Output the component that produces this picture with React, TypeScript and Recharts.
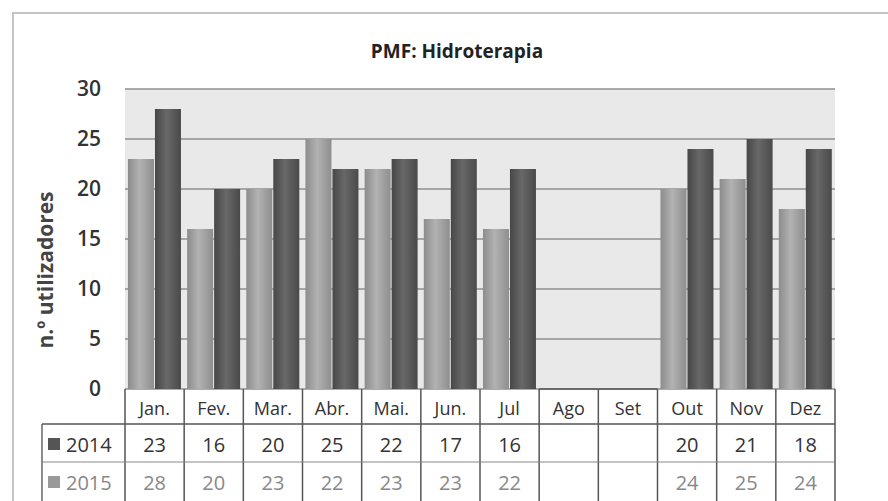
import { Bar, BarChart, CartesianGrid, XAxis, YAxis } from "recharts";

const months = ["Jan.", "Fev.", "Mar.", "Abr.", "Mai.", "Jun.", "Jul", "Ago", "Set", "Out", "Nov", "Dez"];
const users2014 = [23, 16, 20, 25, 22, 17, 16, null, null, 20, 21, 18];
const users2015 = [28, 20, 23, 22, 23, 23, 22, null, null, 24, 25, 24];
const yTicks = [0, 5, 10, 15, 20, 25, 30];

const data = months.map((month, i) => ({ month, y2014: users2014[i], y2015: users2015[i] }));

const W = 888;
const H = 501;
const MARGIN = { top: 89, right: 53, left: 0, bottom: 0 };
const YAXIS_W = 125;
const XAXIS_H = 112;
const CELL_W = (W - MARGIN.right - YAXIS_W) / months.length;

// table rows under the plot
const HEAD_TOP = 389;
const ROW1_TOP = 424;
const ROW2_TOP = 462;
const TABLE_BOTTOM = 501;
const LABEL_LEFT = 42;
const FONT = "'Open Sans', 'Noto Sans', sans-serif";

function TableTick(props: any) {
  const { x, payload, index } = props;
  const left = x - CELL_W / 2;
  const right = x + CELL_W / 2;
  const empty = users2014[index] == null;
  const v14 = users2014[index];
  const v15 = users2015[index];
  return (
    <g fontFamily={FONT} fontWeight={500}>
      {index === 0 && (
        <g>
          <line x1={left} y1={HEAD_TOP} x2={left} y2={TABLE_BOTTOM} stroke="#555" strokeWidth={1.5} />
          <line x1={LABEL_LEFT} y1={ROW1_TOP} x2={LABEL_LEFT} y2={TABLE_BOTTOM} stroke="#666" strokeWidth={1.5} />
          <line x1={LABEL_LEFT} y1={ROW1_TOP} x2={left} y2={ROW1_TOP} stroke="#555" strokeWidth={1.5} />
          <line x1={LABEL_LEFT} y1={ROW2_TOP} x2={left} y2={ROW2_TOP} stroke="#888" strokeWidth={1.2} />
          <rect x={48} y={ROW1_TOP + 14} width={12} height={12} fill="#555" />
          <text x={66} y={ROW1_TOP + 28} fontSize={20} fill="#333">2014</text>
          <rect x={48} y={ROW2_TOP + 14} width={12} height={12} fill="#999" />
          <text x={66} y={ROW2_TOP + 28} fontSize={20} fill="#888">2015</text>
        </g>
      )}
      <line x1={right} y1={HEAD_TOP} x2={right} y2={TABLE_BOTTOM} stroke="#555" strokeWidth={1.5} />
      {empty && <line x1={left} y1={HEAD_TOP} x2={right} y2={HEAD_TOP} stroke="#555" strokeWidth={1.5} />}
      <line x1={left} y1={ROW1_TOP} x2={right} y2={ROW1_TOP} stroke="#555" strokeWidth={1.5} />
      <line x1={left} y1={ROW2_TOP} x2={right} y2={ROW2_TOP} stroke="#888" strokeWidth={1.2} />
      <text x={x} y={HEAD_TOP + 26} textAnchor="middle" fontSize={18} fill="#333">
        {payload.value}
      </text>
      {v14 != null && (
        <text x={x} y={ROW1_TOP + 28} textAnchor="middle" fontSize={20} fill="#333">
          {v14}
        </text>
      )}
      {v15 != null && (
        <text x={x} y={ROW2_TOP + 28} textAnchor="middle" fontSize={20} fill="#888">
          {v15}
        </text>
      )}
    </g>
  );
}

export default function App() {
  return (
    <div style={{ position: "absolute", left: 0, top: 0, width: W, height: H, background: "#fff", overflow: "hidden" }}>
      <div
        style={{
          position: "absolute",
          left: 12,
          top: 12,
          right: 0,
          bottom: 0,
          borderTop: "2px solid #c4c4c4",
          borderLeft: "2px solid #c4c4c4",
        }}
      />
      <div
        style={{
          position: "absolute",
          top: 38,
          left: 0,
          width: W,
          textAlign: "center",
          fontFamily: FONT,
          fontWeight: 700,
          fontSize: 19,
          color: "#222",
          paddingLeft: 26,
          boxSizing: "border-box",
        }}
      >
        PMF: Hidroterapia
      </div>
      <BarChart
        width={W}
        height={H}
        data={data}
        margin={MARGIN}
        barCategoryGap="5%"
        barGap={1}
        style={{ position: "absolute", left: 0, top: 0 }}
      >
        <defs>
          <linearGradient id="bar2014" x1="0" x2="1" y1="0" y2="0">
            <stop offset="0%" stopColor="#8c8c8c" />
            <stop offset="45%" stopColor="#b2b2b2" />
            <stop offset="100%" stopColor="#8e8e8e" />
          </linearGradient>
          <linearGradient id="bar2015" x1="0" x2="1" y1="0" y2="0">
            <stop offset="0%" stopColor="#474747" />
            <stop offset="45%" stopColor="#686868" />
            <stop offset="100%" stopColor="#4a4a4a" />
          </linearGradient>
        </defs>
        <CartesianGrid vertical={false} fill="#e9e9e9" stroke="#8f8f8f" strokeWidth={1.5} />
        <XAxis
          dataKey="month"
          interval={0}
          height={XAXIS_H}
          axisLine={false}
          tickLine={false}
          tick={<TableTick />}
        />
        <YAxis
          width={YAXIS_W}
          domain={[0, 30]}
          ticks={yTicks}
          axisLine={false}
          tickLine={false}
          tickMargin={18}
          tick={{ fontSize: 21, fill: "#333", fontFamily: FONT, fontWeight: 600 }}
          label={{
            value: "n.º utilizadores",
            angle: -90,
            position: "insideLeft",
            offset: 46,
            dy: 31,
            style: { fontSize: 21, fontWeight: 700, fill: "#444", fontFamily: FONT, textAnchor: "middle" },
          }}
        />
        <Bar dataKey="y2014" fill="url(#bar2014)" isAnimationActive={false} />
        <Bar dataKey="y2015" fill="url(#bar2015)" isAnimationActive={false} />
      </BarChart>
    </div>
  );
}
